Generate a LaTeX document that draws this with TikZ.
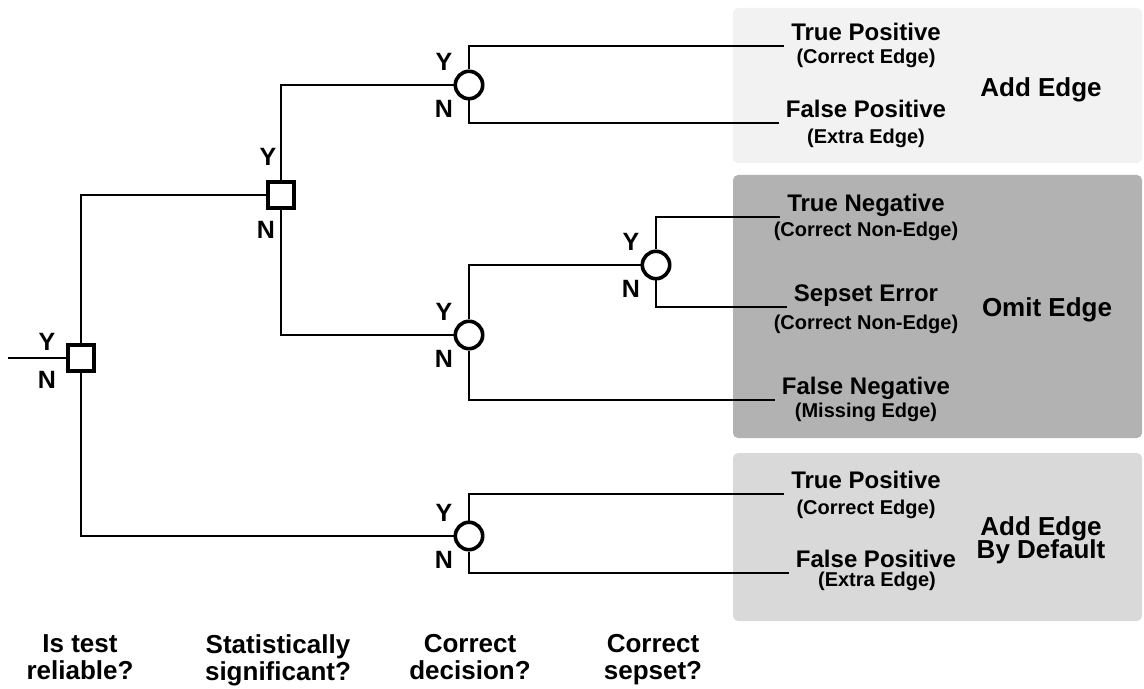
\documentclass[tikz,border=0pt]{standalone}
\usepackage{fontspec}
\setmainfont{Liberation Sans}
\usetikzlibrary{positioning}
\newcommand{\tightlines}{\lineskiplimit=-20pt\relax}

\begin{document}
\begin{tikzpicture}[x=0.5pt, y=-0.5pt]
% Styles
\tikzstyle{choice} = [rectangle, draw, line width=1.8pt, fill=white, minimum size=13.2pt, inner sep=0pt]
\tikzstyle{chance} = [circle, draw, line width=1.8pt, fill=white, minimum size=13.7pt, inner sep=0pt]
\tikzstyle{branch} = [line width=1.1pt]
\tikzstyle{outcome} = [anchor=south, text depth=0pt, inner ysep=2.5pt, font=\bfseries\fontsize{12}{14}\selectfont]
\tikzstyle{detail} = [anchor=base, inner sep=1pt, font=\bfseries\fontsize{10}{12}\selectfont]
\tikzstyle{verdict} = [align=center, font=\bfseries\fontsize{13}{11.5}\selectfont\tightlines]
\tikzstyle{question} = [align=center, anchor=north, inner sep=0pt, font=\bfseries\fontsize{13}{13.5}\selectfont\tightlines]
\tikzstyle{yn} = [inner sep=0pt, font=\bfseries\fontsize{12.5}{14}\selectfont]

\useasboundingbox (0,0) rectangle (1144,689);

% Panels
\fill[black!5, rounded corners=2.5pt] (733,8) rectangle (1142,163);
\fill[black!30, rounded corners=2.5pt] (733,175) rectangle (1142,438);
\fill[black!15, rounded corners=2.5pt] (733,453) rectangle (1142,621);

% Decision nodes
\coordinate (start) at (8,358);
\node[choice] (r) at (81,358) {};
\node[choice] (s) at (281,195) {};
\node[chance] (c1) at (469,85) {};
\node[chance] (c2) at (469,335) {};
\node[chance] (c3) at (656,265) {};
\node[chance] (c4) at (469,536) {};

% Y / N labels
\node[yn] (r-y) at ([shift={(-34,-16)}]r) {Y};
\node[yn] (r-n) at ([shift={(-34,22)}]r) {N};
\node[yn] (s-y) at ([shift={(-13,-38)}]s) {Y};
\node[yn] (s-n) at ([shift={(-15,35)}]s) {N};
\foreach \c in {c1,c2,c3,c4} {
  \node[yn] (\c-y) at ([shift={(-25,-23)}]\c) {Y};
  \node[yn] (\c-n) at ([shift={(-25,24)}]\c) {N};
}

% Outcomes
\node[outcome] (tp1) at (866,46) {True Positive};
\node[detail] (tp1d) at (866,64) {(Correct Edge)};
\node[outcome] (fp1) at (866,123) {False Positive};
\node[detail] (fp1d) at (866,144) {(Extra Edge)};
\node[outcome] (tn) at (866,217) {True Negative};
\node[detail] (tnd) at (866,237) {(Correct Non-Edge)};
\node[outcome] (se) at (866,307) {Sepset Error};
\node[detail] (sed) at (866,329) {(Correct Non-Edge)};
\node[outcome] (fn) at (866,400) {False Negative};
\node[detail] (fnd) at (866,417) {(Missing Edge)};
\node[outcome] (tp2) at (866,494) {True Positive};
\node[detail] (tp2d) at (866,514) {(Correct Edge)};
\node[outcome] (fp2) at (876,573) {False Positive};
\node[detail] (fp2d) at (877,586) {(Extra Edge)};

% Verdicts
\node[verdict, anchor=base] (add) at (1041,97) {Add Edge};
\node[verdict, anchor=base] (omit) at (1047,317) {Omit Edge};
\node[verdict] (adddef) at (1041,540) {Add Edge\\By Default};

% Questions
\node[question] (q1) at (80,634) {Is test\\reliable?};
\node[question] (q2) at (278,634) {Statistically\\significant?};
\node[question] (q3) at (470,634) {Correct\\decision?};
\node[question] (q4) at (653,634) {Correct\\sepset?};

% Branches
\draw[branch] (start) -- (r.west);
\draw[branch] (r.north) |- (s.west);
\draw[branch] (r.south) |- (c4.west);
\draw[branch] (s.north) |- (c1.west);
\draw[branch] (s.south) |- (c2.west);
\draw[branch] (c2.north) |- (c3.west);
\draw[branch] (c1.north) |- (tp1.south west);
\draw[branch] (c1.south) |- (fp1.south west);
\draw[branch] (c3.north) |- (tn.south west);
\draw[branch] (c3.south) |- (se.south west);
\draw[branch] (c2.south) |- (fn.south west);
\draw[branch] (c4.north) |- (tp2.south west);
\draw[branch] (c4.south) |- (fp2.south west);

\end{tikzpicture}
\end{document}
